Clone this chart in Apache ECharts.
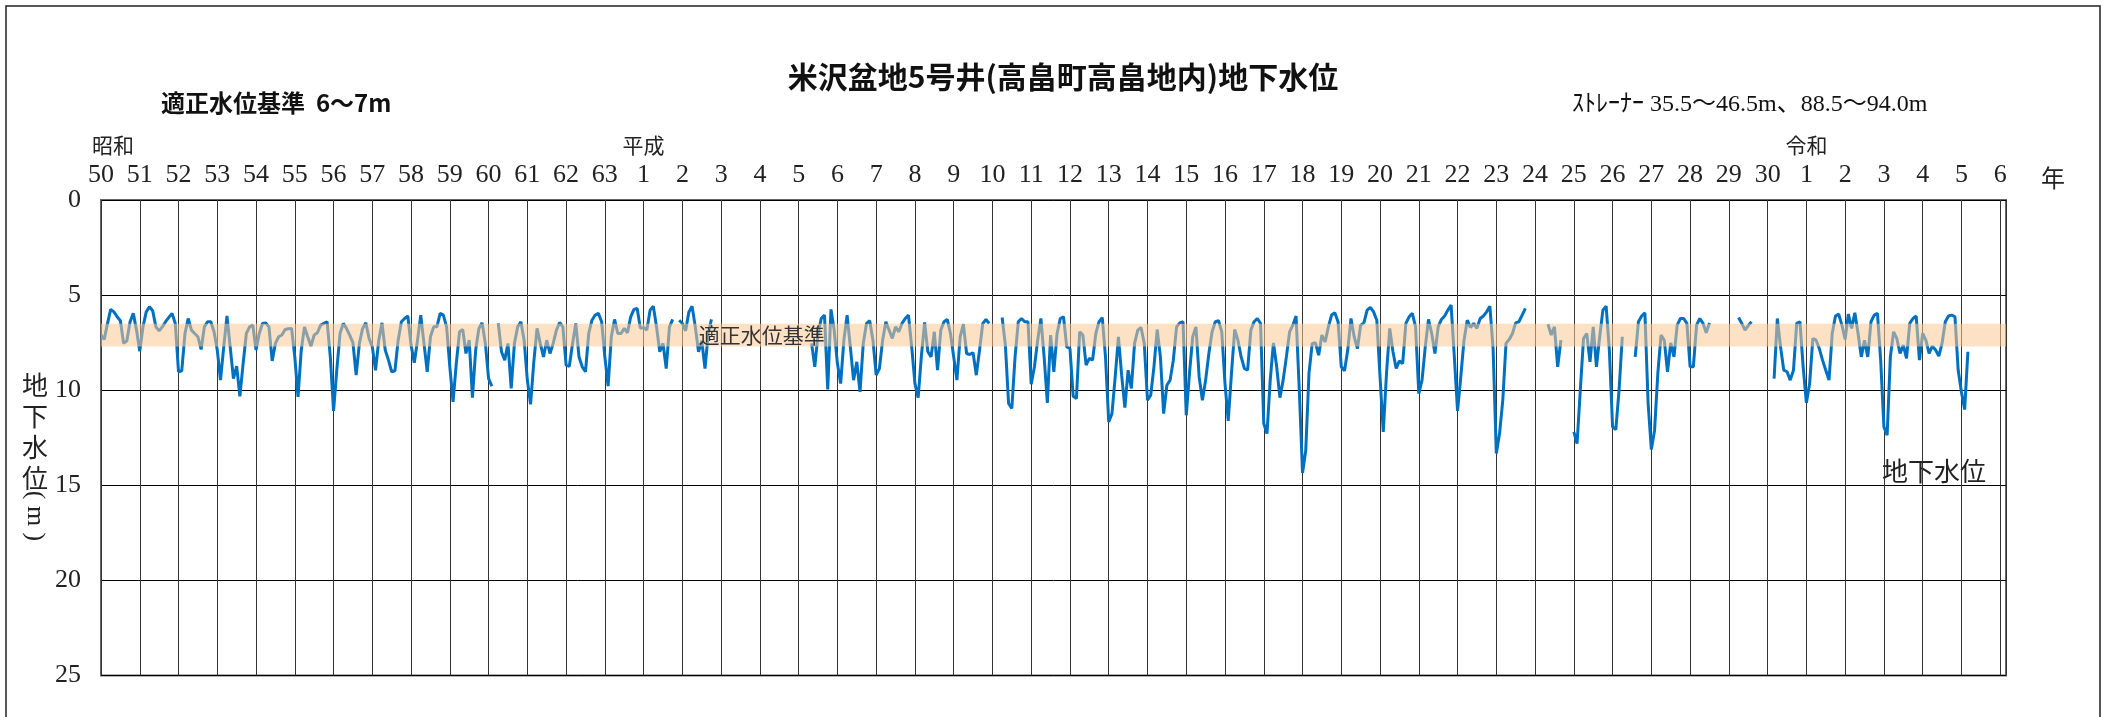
<!DOCTYPE html>
<html>
<head>
<meta charset="utf-8">
<script src="https://cdn.jsdelivr.net/npm/echarts@6/dist/echarts.min.js"></script>
<style>
html,body{margin:0;padding:0;background:#fff;}
#chart{width:2111px;height:717px;}
</style>
</head>
<body>
<div id="chart"></div>
<script>
// ---- data (groundwater depth below surface, m; monthly Jan..Dec) ----
const startYear = 1975;
const eraNames = ['昭和', '平成', '令和'];
const eraStartYears = [1975, 1989, 2019];
const showaLabels = ['50','51','52','53','54','55','56','57','58','59','60','61','62','63'];
const heiseiLabels = ['1','2','3','4','5','6','7','8','9','10','11','12','13','14','15','16','17','18','19','20','21','22','23','24','25','26','27','28','29','30'];
const reiwaLabels = ['1','2','3','4','5','6'];
const optimalBand = [6.5, 7.7];
const bandLabelSpan = [1990.8, 1993.3];

const showaLevels = [
  [7.1,7.33,6.5,5.75,5.88,6.14,6.35,7.54,7.4,6.4,5.96,6.84],
  [7.95,6.67,5.88,5.61,5.82,6.67,6.88,6.67,6.4,6.17,5.96,6.49],
  [9.03,8.98,7.02,6.23,6.84,7.02,7.19,7.86,6.67,6.4,6.4,6.93],
  [7.89,9.47,7.72,6.1,7.72,9.39,8.74,10.32,8.6,7.02,6.67,6.58],
  [7.89,7.02,6.49,6.46,6.67,8.46,7.54,7.19,7.1,6.81,6.77,6.75],
  [8.25,10.35,7.89,6.67,7.19,7.68,7.1,6.98,6.58,6.49,6.4,8.25],
  [11.09,8.95,7.02,6.49,6.75,7.1,7.5,9.21,7.54,6.75,6.46,7.28],
  [7.72,8.95,7.37,6.46,7.89,8.42,9.03,8.98,7.37,6.4,6.23,6.1],
  [7.63,8.56,7.37,6.05,7.54,9.03,7.19,6.67,6.67,5.96,6.05,6.67],
  [8.77,10.61,8.6,6.93,6.81,8.07,7.37,10.39,7.89,6.75,6.46,7.54],
  [9.39,9.79,null,6.49,7.98,8.42,7.54,9.91,7.54,6.67,6.4,7.37],
  [9.47,10.74,8.51,6.75,7.54,8.25,7.37,8.07,7.54,6.84,6.44,6.67],
  [8.68,8.74,7.54,6.49,8.25,8.77,9.03,7.02,6.32,6.05,5.96,6.4],
  [8.25,9.79,7.19,6.28,7.02,7.02,6.75,6.98,6.14,5.75,5.7,6.75]
];
const heiseiLevels = [
  [6.7,6.84,5.79,5.58,6.67,7.98,7.54,8.86,6.67,6.28,null,6.32],
  [6.49,6.88,5.9,5.58,6.67,7.98,7.4,8.86,7.02,6.28,null,null],
  [null,null,null,null,null,null,null,null,null,null,null,null],
  [null,null,null,null,null,null,null,null,null,null,null,null],
  [null,null,null,null,7.54,8.77,7.02,6.23,6.05,9.96,5.75,6.84],
  [8.6,9.65,7.37,6.05,7.72,9.47,8.51,10.09,7.54,6.49,6.35,7.37],
  [9.21,8.86,7.37,6.4,6.84,7.28,6.67,6.93,6.49,6.23,6.05,7.72],
  [9.65,10.39,8.2,6.44,7.98,8.25,6.93,8.95,6.84,6.4,6.28,7.02],
  [8.25,9.47,7.19,6.53,8.07,8.12,8.03,9.21,7.89,6.49,6.28,6.49],
  [null,null,null,6.18,7.63,10.7,10.96,8.25,6.4,6.23,6.4,6.4],
  [9.68,8.77,7.37,6.23,8.25,10.67,7.1,9.03,7.02,6.23,6.14,7.72],
  [7.81,10.32,10.44,6.93,7.1,8.68,8.33,8.42,7.02,6.4,6.18,8.25],
  [11.67,11.23,9.3,7.19,9.21,10.91,8.95,9.91,7.54,6.84,6.7,7.54],
  [10.53,10.26,8.77,6.81,8.25,11.23,9.74,9.47,8.42,6.67,6.46,6.4],
  [11.32,9.12,7.19,6.67,9.3,10.53,9.47,8.07,6.93,6.4,6.35,6.93],
  [9.65,11.61,9.12,6.81,7.37,8.25,8.86,8.95,6.84,6.4,6.23,6.49],
  [11.75,12.28,9.47,7.51,8.77,10.39,9.47,8.25,6.93,6.58,6.1,10.0],
  [14.35,13.16,9.12,7.54,7.51,8.16,7.1,7.46,6.67,6.05,5.93,6.4],
  [8.77,8.98,7.89,6.23,7.19,7.81,6.58,6.46,5.79,5.65,5.88,6.32],
  [9.3,12.19,9.12,6.75,7.98,8.86,8.46,8.6,6.49,6.14,5.96,6.67],
  [10.18,9.47,7.72,6.28,7.02,8.07,6.67,6.28,6.1,5.79,5.53,8.25],
  [11.09,9.3,7.37,6.32,6.7,6.49,6.75,6.23,6.1,5.88,5.58,7.8],
  [13.33,12.28,10.53,7.54,7.33,7.02,6.46,6.4,6.05,5.7,null,null],
  [null,null,null,null,6.53,7.1,6.67,8.77,7.37,null,null,null],
  [12.19,12.81,10.0,7.28,7.02,8.51,6.67,8.77,7.19,5.79,5.58,7.89],
  [11.93,12.07,10.0,7.19,null,null,null,8.25,6.4,6.1,5.93,10.7],
  [13.12,12.1,9.12,7.1,7.37,9.03,7.51,8.25,6.58,6.23,6.23,6.49],
  [8.77,8.77,6.58,6.23,6.49,6.98,6.46,null,null,null,null,null],
  [null,null,null,6.18,6.49,6.84,6.6,6.4,null,null,null,null],
  [null,null,9.39,6.23,7.72,8.95,9.03,9.47,8.95,6.49,6.4,8.77]
];
const reiwaLevels = [
  [10.67,9.65,7.28,7.37,7.81,8.42,8.95,9.47,7.02,6.1,6.0,6.58],
  [7.33,6.0,6.75,5.93,7.02,8.25,7.37,8.25,6.4,6.05,5.96,8.42],
  [11.93,12.37,8.25,6.93,7.28,8.07,7.63,8.33,6.49,6.23,6.1,8.42],
  [7.02,7.37,8.07,7.68,7.89,8.21,7.54,6.4,6.1,6.05,6.14,8.95],
  [10.09,11.02,7.98,null,null,null,null,null,null,null,null,null]
];

// ---- build series ----
const allRows = showaLevels.concat(heiseiLevels, reiwaLevels);
const allLabels = showaLabels.concat(heiseiLabels, reiwaLabels);
const seriesData = [];
allRows.forEach(function (row, i) {
  row.forEach(function (v, m) {
    seriesData.push([startYear + i + m / 12, v]);
  });
});
const lastYear = startYear + allLabels.length - 1;

const CJK = "'Noto Sans CJK JP'";
const SERIF = "'Liberation Serif', 'Noto Sans CJK JP'";

const chart = echarts.init(document.getElementById('chart'), null, {renderer: 'canvas'});
const baseGraphics = [
  {type: 'rect', shape: {x: 6, y: 6, width: 2094, height: 740}, silent: true,
   style: {fill: 'none', stroke: '#222', lineWidth: 1.5}},
  {type: 'text', x: 1063, y: 77, silent: true,
   style: {text: '米沢盆地5号井(高畠町高畠地内)地下水位', fontFamily: CJK, fontWeight: 'bold', fontSize: 30,
           fill: '#111', align: 'center', verticalAlign: 'middle'}},
  {type: 'text', x: 161, y: 103, silent: true,
   style: {text: '適正水位基準  6〜7m', fontFamily: CJK, fontWeight: 'bold', fontSize: 24,
           fill: '#111', align: 'left', verticalAlign: 'middle'}},
  {type: 'text', x: 1572, y: 105, silent: true,
   style: {text: 'ｽﾄﾚｰﾅｰ 35.5〜46.5m、88.5〜94.0m', fontFamily: SERIF, fontSize: 24,
           fill: '#111', align: 'left', verticalAlign: 'middle'}},
  {type: 'text', x: 2053, y: 178, silent: true,
   style: {text: '年', fontFamily: CJK, fontSize: 24, fill: '#222', align: 'center', verticalAlign: 'middle'}},
  {type: 'text', x: 35, y: 370, silent: true,
   style: {text: '地\n下\n水\n位', fontFamily: CJK, fontSize: 26, lineHeight: 31, fill: '#222',
           align: 'center', verticalAlign: 'top'}},
  {type: 'text', x: 35, y: 516, rotation: -Math.PI / 2, silent: true,
   style: {text: '( m )', fontFamily: SERIF, fontSize: 26, fill: '#222', align: 'center', verticalAlign: 'middle'}},
  {type: 'text', x: 1934, y: 471, silent: true,
   style: {text: '地下水位', fontFamily: CJK, fontSize: 26, fill: '#222', align: 'center', verticalAlign: 'middle'}}
];

chart.setOption({
  animation: false,
  backgroundColor: '#ffffff',
  grid: {
    left: 101, top: 200, width: 1905, height: 475.5,
    show: true, borderColor: '#666', borderWidth: 2, backgroundColor: 'transparent'
  },
  xAxis: {
    type: 'value', position: 'top',
    min: startYear, max: lastYear + 0.15, interval: 1,
    axisLine: {show: false}, axisTick: {show: false},
    splitLine: {show: true, lineStyle: {color: '#333', width: 1}},
    axisLabel: {
      margin: 12,
      showMinLabel: true,
      showMaxLabel: true,
      hideOverlap: false,
      fontFamily: SERIF, fontSize: 26, color: '#222',
      formatter: function (v) {
        if (Math.abs(v - Math.round(v)) > 1e-6) return '';
        const lab = allLabels[Math.round(v) - startYear];
        return lab === undefined ? '' : lab;
      }
    }
  },
  yAxis: {
    type: 'value', inverse: true, min: 0, max: 25, interval: 5,
    axisLine: {show: false}, axisTick: {show: false},
    splitLine: {show: true, lineStyle: {color: '#000', width: 1}},
    axisLabel: {margin: 20, fontFamily: SERIF, fontSize: 26, color: '#222', showMinLabel: true, showMaxLabel: true}
  },
  series: [{
    name: '地下水位',
    type: 'line',
    data: seriesData,
    showSymbol: false,
    symbol: 'none',
    connectNulls: false,
    z: 2,
    lineStyle: {color: '#0070C0', width: 3},
    markArea: {
      silent: true,
      z: 10,
      itemStyle: {color: 'rgba(250,200,150,0.55)'},
      label: {show: false},
      data: [
        [{xAxis: startYear, yAxis: optimalBand[0]}, {xAxis: lastYear + 0.15, yAxis: optimalBand[1]}],
        [{xAxis: bandLabelSpan[0], yAxis: optimalBand[0], name: '適正水位基準',
          itemStyle: {color: 'rgba(0,0,0,0)'},
          label: {show: true, position: 'inside', fontFamily: CJK, fontSize: 21, color: '#333'}},
         {xAxis: bandLabelSpan[1], yAxis: optimalBand[1]}]
      ]
    }
  }],
  graphic: baseGraphics
});

// era names above the first year of each era, positioned through the axis scale
const eraGraphics = eraNames.map(function (name, k) {
  const px = chart.convertToPixel({xAxisIndex: 0}, eraStartYears[k]);
  return {type: 'text', x: px + (k === 0 ? 12 : 0), y: 145, silent: true,
          style: {text: name, fontFamily: CJK, fontSize: 21, fill: '#222', align: 'center', verticalAlign: 'middle'}};
});
chart.setOption({graphic: baseGraphics.concat(eraGraphics)});
</script>
</body>
</html>
